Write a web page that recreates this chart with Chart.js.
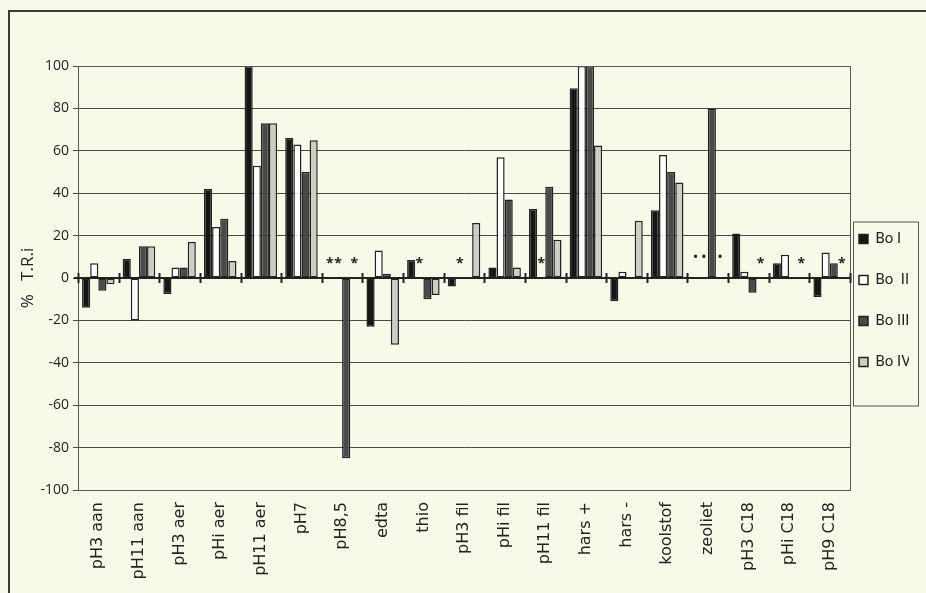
<!DOCTYPE html>
<html lang="en">
<head>
    <meta charset="UTF-8">
    <title>T.R.i per behandeling</title>
    <script src="https://cdn.jsdelivr.net/npm/chart.js"></script>
    <style>
        body { margin: 0; background: #f9f9ea; }
        #frame { position: absolute; left: 8px; top: 10px; width: 960px; height: 640px;
                 border-top: 2px solid #3a3a3a; border-left: 2px solid #3a3a3a; }
        canvas { position: absolute; left: 0; top: 0; }
    </style>
</head>
<body>
    <div id="frame"></div>
    <canvas id="triChart" width="926" height="593"></canvas>
    <script>
        const categories = ['pH3 aan', 'pH11 aan', 'pH3 aer', 'pHi aer', 'pH11 aer', 'pH7', 'pH8,5', 'edta', 'thio',
            'pH3 fil', 'pHi fil', 'pH11 fil', 'hars +', 'hars -', 'koolstof', 'zeoliet', 'pH3 C18', 'pHi C18', 'pH9 C18'];

        const boI   = [-14, 9, -7.5, 42, 100, 66, 0, -23, 8.5, -4, 5, 32.5, 89.5, -11, 32, 0, 21, 7, -9];
        const boII  = [7, -20, 5, 24, 53, 63, 0, 13, 0, 0, 57, 0, 100, 3, 58, 0, 3, 11, 12];
        const boIII = [-6, 15, 5, 28, 73, 50, -85, 2, -10, 0, 37, 43, 100, 0, 50, 80, -7, 0, 7];
        const boIV  = [-3, 15, 17, 8, 73, 65, 0, -31.5, -8, 26, 5, 18, 62.5, 27, 45, 0, 0, 0, 0];

        // [category, series, symbol] for values marked instead of drawn
        const markers = [
            [6, 0, '*'], [6, 1, '*'], [6, 3, '*'], [8, 1, '*'], [9, 1, '*'], [11, 1, '*'],
            [15, 0, '•'], [15, 1, '•'], [15, 3, '•'], [16, 3, '*'], [17, 3, '*'], [18, 3, '*']
        ];

        const yTicks = [-100, -80, -60, -40, -20, 0, 20, 40, 60, 80, 100];

        const font = '"Open Sans", Lato, sans-serif';
        const ink = '#222';

        const series = [
            {label: 'Bo I', data: boI, color: '#161616'},
            {label: 'Bo  II', data: boII, color: '#ffffff'},
            {label: 'Bo III', data: boIII, color: '#4a4a4a'},
            {label: 'Bo IV', data: boIV, color: '#cdcdc4'}
        ];

        const extras = {
            id: 'extras',
            afterLayout(chart) {
                // move the legend up and left so it sits in its box beside the plot
                const lg = chart.legend;
                lg.top -= 27;
                lg.bottom -= 27;
                lg.left -= 17;
                lg.right -= 17;
            },
            afterDatasetsDraw(chart) {
                const {ctx, chartArea: a, scales: {y}} = chart;
                const y0 = y.getPixelForValue(0);
                ctx.save();
                ctx.strokeStyle = '#555';
                ctx.lineWidth = 1;
                ctx.strokeRect(a.left + 0.5, a.top + 0.5, a.right - a.left, a.bottom - a.top);
                // zero axis with category ticks
                ctx.strokeStyle = ink;
                ctx.lineWidth = 2;
                ctx.beginPath();
                ctx.moveTo(a.left - 4, y0);
                ctx.lineTo(a.right, y0);
                const step = (a.right - a.left) / categories.length;
                for (let i = 0; i <= categories.length; i++) {
                    const px = Math.round(a.left + i * step) + 0.5;
                    ctx.moveTo(px, y0 - 5);
                    ctx.lineTo(px, y0 + 5);
                }
                ctx.stroke();
                ctx.fillStyle = ink;
                ctx.textAlign = 'center';
                ctx.textBaseline = 'middle';
                markers.forEach(([c, s, sym]) => {
                    const bar = chart.getDatasetMeta(s).data[c];
                    ctx.font = (sym === '*' ? 'bold 14px ' : '15px ') + font;
                    ctx.fillText(sym, bar.x, y0 - (sym === '*' ? 14 : 20));
                });
                ctx.restore();
            },
            afterDraw(chart) {
                const boxes = chart.legend.legendHitBoxes;
                if (!boxes || !boxes.length) return;
                const {ctx} = chart;
                const first = boxes[0], last = boxes[boxes.length - 1];
                const top = first.top - 10;
                const bottom = last.top + last.height + 36;
                ctx.save();
                ctx.strokeStyle = '#555';
                ctx.lineWidth = 1;
                ctx.strokeRect(853.5, top + 0.5, 65, bottom - top);
                ctx.restore();
            }
        };

        new Chart(document.getElementById('triChart'), {
            type: 'bar',
            data: {
                labels: categories,
                datasets: series.map(s => ({
                    label: s.label,
                    data: s.data,
                    backgroundColor: s.color,
                    borderColor: ink,
                    borderWidth: 1.5,
                    borderSkipped: false,
                    categoryPercentage: 0.8,
                    barPercentage: 1.0
                }))
            },
            options: {
                responsive: false,
                animation: false,
                layout: {padding: {top: 66, left: 18, right: 0, bottom: 4}},
                plugins: {
                    tooltip: {enabled: false},
                    legend: {
                        position: 'right',
                        maxWidth: 76,
                        labels: {
                            color: ink,
                            font: {family: 'Roboto, sans-serif', size: 15},
                            boxWidth: 9,
                            boxHeight: 9,
                            padding: 26
                        }
                    }
                },
                scales: {
                    x: {
                        grid: {display: false},
                        border: {display: false},
                        ticks: {
                            color: ink,
                            font: {family: '"DejaVu Sans", sans-serif', size: 16},
                            minRotation: 90,
                            maxRotation: 90,
                            autoSkip: false,
                            padding: 4
                        },
                        afterFit: scale => { scale.height = 99; }
                    },
                    y: {
                        min: -100,
                        max: 100,
                        afterBuildTicks: scale => { scale.ticks = yTicks.map(v => ({value: v})); },
                        grid: {color: '#4a4a4a', lineWidth: 1, tickLength: 5},
                        border: {color: '#555'},
                        ticks: {color: ink, font: {family: font, size: 14}, padding: 4},
                        title: {
                            display: true,
                            text: '%   T.R.i',
                            color: ink,
                            font: {family: font, size: 17},
                            padding: {top: 0, bottom: 2}
                        },
                        afterFit: scale => { scale.width = 60; }
                    }
                }
            },
            plugins: [extras]
        });
    </script>
</body>
</html>
